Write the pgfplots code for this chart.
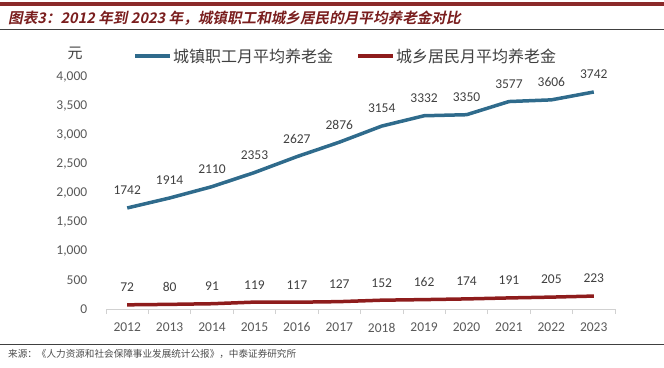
\documentclass[border=0pt]{standalone}
\usepackage{pgfplots}
\pgfplotsset{compat=1.18}
\usepackage{fontspec}
\setmainfont{Carlito}
\newfontfamily\cjk{Noto Sans CJK SC}
\newfontfamily\cjkbold[FakeSlant=0.2]{Noto Sans CJK SC Bold}
\definecolor{titlered}{HTML}{7A1E1E}
\definecolor{topred}{HTML}{8B2A2A}
\definecolor{blueline}{HTML}{2F6B8C}
\definecolor{redline}{HTML}{8E1C1C}
\definecolor{ticktext}{HTML}{595959}
\definecolor{labeltext}{HTML}{404040}
\begin{document}
\begin{tikzpicture}[x=1pt,y=1pt]
\useasboundingbox (0,0) rectangle (664,-367);
\fill[topred] (0,-2) rectangle (664,-5.5);
\node[anchor=west, inner sep=0pt, text=titlered] at (8,-18) {\cjkbold\fontsize{14.6}{15}\selectfont 图表3：2012 年到 2023 年，城镇职工和城乡居民的月平均养老金对比};
\draw[line width=0.9pt, black!75] (0,-29) -- (664,-29);
\begin{axis}[
  at={(106pt,-309pt)}, anchor=south west,
  scale only axis, width=509pt, height=232pt,
  xmin=2011.5, xmax=2023.5, ymin=0, ymax=4000,
  axis x line*=bottom, axis y line*=left,
  x axis line style={draw=black!18, line width=0.8pt},
  y axis line style={draw=none},
  xtick={2012,...,2023},
  xticklabels={2012,2013,2014,2015,2016,2017,2018,2019,2020,2021,2022,2023},
  major x tick style={draw=none},
  minor xtick={2011.5,2012.5,...,2023.5},
  minor x tick style={draw=black!18, line width=0.8pt},
  minor tick length=5pt,
  tick align=outside,
  ytick={0,500,...,4000},
  ytick style={draw=none},
  yticklabel style={font=\fontsize{13.5}{13.5}\selectfont, text=ticktext, xshift=-11pt},
  xticklabel style={font=\fontsize{13.5}{13.5}\selectfont, text=ticktext, yshift=-6pt},
  /pgf/number format/assume math mode=true,
  /pgf/number format/1000 sep={,},
  clip=false,
  nodes near coords={\pgfmathprintnumber[1000 sep={},fixed,precision=0]{\pgfplotspointmeta}},
  every node near coord/.append style={font=\fontsize{13.5}{13.5}\selectfont, text=labeltext, anchor=south, yshift=8pt},
]
\addplot[blueline, line width=3.5pt, line join=round] coordinates {
(2012,1742) (2013,1914) (2014,2110) (2015,2353) (2016,2627) (2017,2876)
(2018,3154) (2019,3332) (2020,3350) (2021,3577) (2022,3606) (2023,3742)};
\addplot[redline, line width=3.5pt, line join=round] coordinates {
(2012,72) (2013,80) (2014,91) (2015,119) (2016,117) (2017,127)
(2018,152) (2019,162) (2020,174) (2021,191) (2022,205) (2023,223)};
\end{axis}
\node[anchor=center, inner sep=0pt, text=labeltext] at (75,-53) {\cjk\fontsize{15}{15}\selectfont 元};
\draw[blueline, line width=3.5pt] (135,-56) -- (170,-56);
\node[anchor=west, inner sep=0pt, text=labeltext] at (173,-56) {\cjk\fontsize{16}{16}\selectfont 城镇职工月平均养老金};
\draw[redline, line width=3.5pt] (358,-56) -- (393,-56);
\node[anchor=west, inner sep=0pt, text=labeltext] at (396,-56) {\cjk\fontsize{16}{16}\selectfont 城乡居民月平均养老金};
\draw[line width=0.9pt, black!75] (0,-344) -- (664,-344);
\node[anchor=west, inner sep=0pt, text=black!70] at (8,-354) {\cjk\fontsize{9.6}{10}\selectfont 来源：《人力资源和社会保障事业发展统计公报》，中泰证券研究所};
\end{tikzpicture}
\end{document}
